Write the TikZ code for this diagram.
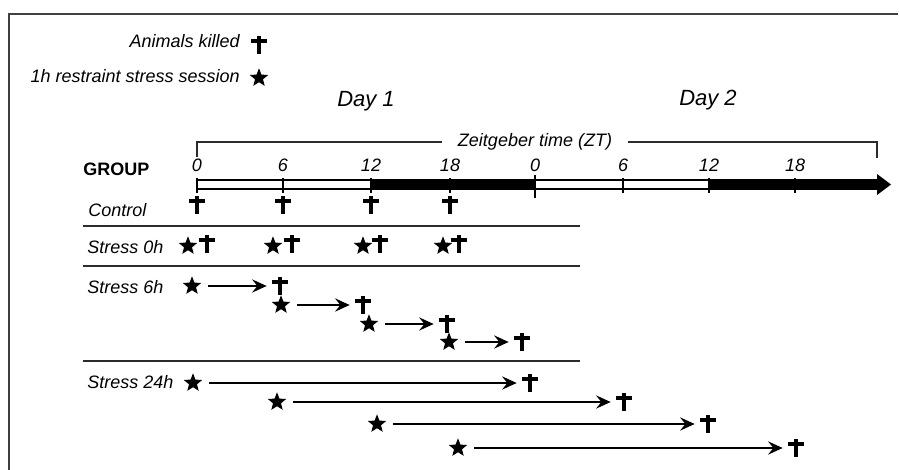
\documentclass[tikz,border=0pt]{standalone}
\usepackage{fontspec}
\setmainfont{Liberation Sans}
\usepackage{tikz}
\usetikzlibrary{shapes.geometric, arrows.meta, positioning}
\definecolor{Frame}{HTML}{404040}
\definecolor{Rule}{HTML}{2B2B2B}

\begin{document}
\begin{tikzpicture}[x=0.75pt, y=-0.75pt,
    lbl/.style={font=\fontsize{13.5}{16}\selectfont\itshape, inner sep=0pt},
    daylbl/.style={font=\fontsize{16.5}{20}\selectfont\itshape, inner sep=0pt},
    stress/.style={star, star points=5, star point ratio=2.3, fill=black, inner sep=0pt, minimum size=14.5pt},
    kill/.style={inner sep=0pt, minimum width=12pt, minimum height=13.5pt,
        path picture={
            \fill ([xshift=-1.7pt]path picture bounding box.north) rectangle ([xshift=1.7pt]path picture bounding box.south);
            \fill ([yshift=-2.2pt]path picture bounding box.north west) rectangle ([yshift=-5.3pt]path picture bounding box.north east);}},
    wait/.style={line width=1.1pt, -{Stealth[length=11pt, width=10pt, inset=4pt]}, shorten <=12pt, shorten >=10pt},
    sep/.style={line width=1.1pt, Rule}]
    \useasboundingbox (0,0) rectangle (899,470);
    \draw[Frame, line width=1.1pt] (9,470) -- (9,14) -- (898,14);

    % legend
    \node[lbl, anchor=base east] (killtxt) at (240,48) {Animals killed};
    \node[kill] (killkey) at (259,45) {};
    \node[lbl, anchor=base east] (stresstxt) at (240,83) {1h restraint stress session};
    \node[stress] (stresskey) at (259,78) {};

    \node[daylbl, anchor=base] (day1) at (366,107) {Day 1};
    \node[daylbl, anchor=base] (day2) at (708,106) {Day 2};

    % time axis
    \draw[line width=0.8pt] (197,180) rectangle (877,189);
    \fill (371,180) rectangle (535,189);
    \fill (709,180) rectangle (877,189);
    \fill (877,174) -- (891,184.5) -- (877,195) -- cycle;
    \foreach \x/\h in {197/0, 283/6, 371/12, 450/18, 623/6, 709/12, 795/18} {
        \draw[line width=1pt] (\x,178) -- (\x,193);
        \node[lbl, anchor=base] (tick\x) at (\x,172) {\h};
    }
    \draw[line width=1.6pt] (535,175) -- (535,198);
    \node[lbl, anchor=base] (tick535) at (535,172) {0};

    \node[lbl, inner xsep=12pt] (ztlbl) at (535,142) {Zeitgeber time (ZT)};
    \draw[Rule, line width=0.8pt] (197,157) |- (ztlbl.west);
    \draw[Rule, line width=0.8pt] (ztlbl.east) -| (877,158);

    % groups
    \node[font=\fontsize{13.5}{16}\selectfont\bfseries, inner sep=0pt, anchor=base west] (group) at (83,176) {GROUP};
    \node[lbl, anchor=base west] (ctrl) at (88,217) {Control};
    \node[lbl, anchor=base west] (s0) at (87,254) {Stress 0h};
    \node[lbl, anchor=base west] (s6) at (87,293) {Stress 6h};
    \node[lbl, anchor=base west] (s24) at (87,388) {Stress 24h};

    \draw[sep] (83,226) -- (580,226);
    \draw[sep] (83,266) -- (580,266);
    \draw[sep] (83,361) -- (580,361);

    \foreach \x [count=\i] in {197, 283, 371, 450}
        \node[kill] (ctrlk\i) at (\x,205) {};

    \foreach \sx/\kx [count=\i] in {188/207, 273/292, 363/380, 443/459} {
        \node[stress] (zero\i) at (\sx,246) {};
        \node[kill] (zerok\i) at (\kx,244) {};
    }

    \foreach \sx/\kx/\y [count=\i] in {192/280/286, 281/363/305, 369/447/324, 449/522/342} {
        \node[stress] (six\i) at (\sx,\y) {};
        \node[kill] (sixk\i) at (\kx,\y) {};
        \draw[wait] (six\i.center) -- (sixk\i.center);
    }

    \foreach \sx/\kx/\y [count=\i] in {193/530/383, 277/624/402, 377/708/424, 458/796/448} {
        \node[stress] (day\i) at (\sx,\y) {};
        \node[kill] (dayk\i) at (\kx,\y) {};
        \draw[wait] (day\i.center) -- (dayk\i.center);
    }
\end{tikzpicture}
\end{document}
